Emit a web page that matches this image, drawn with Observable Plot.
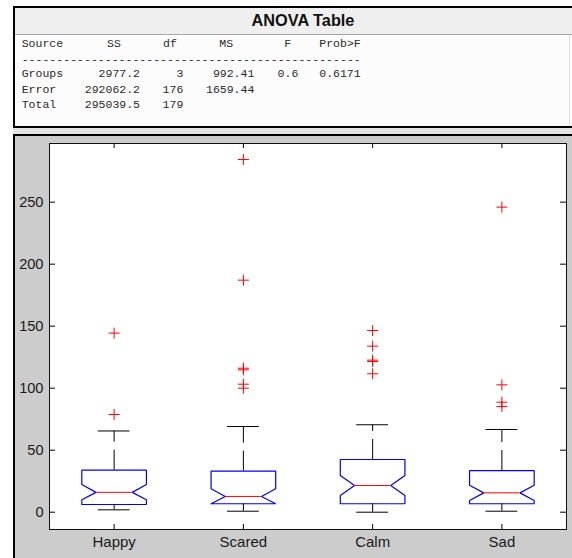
<!DOCTYPE html>
<html>
<head>
<meta charset="utf-8">
<script src="https://cdn.jsdelivr.net/npm/d3@7"></script>
<script src="https://cdn.jsdelivr.net/npm/@observablehq/plot@0.6"></script>
<style>
  html, body { margin: 0; padding: 0; background: #ffffff; }
  #page { position: relative; width: 572px; height: 558px; overflow: hidden; background: #ffffff; }
  #anova { position: absolute; left: 13px; top: 6px; width: 559px; height: 122px; box-sizing: border-box;
           border-left: 2px solid #000; border-top: 2px solid #000; border-bottom: 2px solid #000; background: #fcfcfc; }
  #titlebar { position: absolute; left: 0; top: 0; right: 0; height: 26px; background: #efefef; border-bottom: 1px solid #a9a9a9; }
  #rightedge { position: absolute; left: 554px; top: 27px; width: 1px; bottom: 0; background: #dddddd; }
  #gap { position: absolute; left: 13px; top: 128px; width: 559px; height: 6px; background: #e2e2e2; }
  #tableSvg { position: absolute; left: 0; top: 0; }
  #fig { position: absolute; left: 13px; top: 134px; width: 559px; height: 424px; box-sizing: border-box;
         border-left: 2px solid #000; border-top: 2px solid #000; background: #cccccc; }
  #fig svg { display: block; }
</style>
</head>
<body>
<div id="page">
  <div id="anova"><div id="titlebar"></div><div id="rightedge"></div></div>
  <div id="gap"></div>
  <svg id="tableSvg" width="572" height="130"></svg>
  <div id="fig"></div>
</div>
<script>
// ---------- ANOVA table text ----------
const tableTitle = "ANOVA Table";
const tableHeader = ["Source", "SS", "df", "MS", "F", "Prob>F"];
const tableRows = [
  ["Groups", "2977.2", "3", "992.41", "0.6", "0.6171"],
  ["Error", "292062.2", "176", "1659.44", "", ""],
  ["Total", "295039.5", "179", "", "", ""]
];

// ---------- Box plot data ----------
const categories   = ["Happy", "Scared", "Calm", "Sad"];
const lowerWhisker = [1.9, 0.8, 0.0, 0.8];
const q1           = [6.2, 6.8, 6.8, 6.8];
const notchLow     = [10.0, 6.8, 13.5, 9.4];
const median       = [16.0, 12.7, 21.5, 15.6];
const notchHigh    = [22.3, 18.9, 29.6, 21.8];
const q3           = [33.9, 33.1, 42.5, 33.6];
const upperWhisker = [65.5, 69.1, 70.5, 66.7];
const outliers = [
  [144.4, 78.8],
  [284.4, 187.1, 116.1, 114.8, 103.2, 100.0],
  [146.5, 133.9, 122.6, 121.5, 111.6],
  [246.0, 102.7, 88.7, 85.2]
];
const yTicks = [0, 50, 100, 150, 200, 250];

// ---------- table drawing ----------
const tsvg = d3.select("#tableSvg");
tsvg.append("text").text(tableTitle)
  .attr("x", 303).attr("y", 26).attr("text-anchor", "middle")
  .attr("font-family", "'Liberation Sans', Arial, sans-serif").attr("font-weight", "bold")
  .attr("font-size", 16.3).attr("fill", "#111");
const mono = "'Liberation Mono', 'Courier New', monospace";
const headerX = [21.7, 107, 163, 219.3, 284.3, 319.3];
const colRight = [null, 140, 183.3, 254.3, 298.3, 360.7];
const rowY = [77.3, 93, 108.3];
tableHeader.forEach((h, j) => {
  tsvg.append("text").text(h).attr("x", headerX[j]).attr("y", 47.3)
    .attr("font-family", mono).attr("font-size", 11.5).attr("fill", "#2a2a2a");
});
tsvg.append("text").text("-".repeat(49)).attr("x", 21.7).attr("y", 62.5)
  .attr("textLength", 339).attr("lengthAdjust", "spacing")
  .attr("font-family", mono).attr("font-size", 11.5).attr("fill", "#2a2a2a");
tableRows.forEach((row, r) => {
  row.forEach((cell, j) => {
    if (!cell) return;
    const t = tsvg.append("text").text(cell).attr("y", rowY[r])
      .attr("font-family", mono).attr("font-size", 11.5).attr("fill", "#2a2a2a");
    if (j === 0) t.attr("x", 21.7);
    else t.attr("x", colRight[j]).attr("text-anchor", "end");
  });
});

// ---------- chart ----------
const BOX_HALF = 0.25, NOTCH_HALF = 0.14, CAP_HALF = 0.123;
const stats = categories.map((c, i) => ({
  i, c, lw: lowerWhisker[i], q1: q1[i], nlo: notchLow[i], med: median[i],
  nhi: notchHigh[i], q3: q3[i], uw: upperWhisker[i]
}));
const boxPts = stats.flatMap(s => [
  [s.i - BOX_HALF, s.q1], [s.i + BOX_HALF, s.q1], [s.i + BOX_HALF, s.nlo],
  [s.i + NOTCH_HALF, s.med], [s.i + BOX_HALF, s.nhi], [s.i + BOX_HALF, s.q3],
  [s.i - BOX_HALF, s.q3], [s.i - BOX_HALF, s.nhi], [s.i - NOTCH_HALF, s.med],
  [s.i - BOX_HALF, s.nlo], [s.i - BOX_HALF, s.q1]
].map(([x, y]) => ({x, y, c: s.c})));
const outlierPts = outliers.flatMap((arr, i) => arr.map(v => ({i, v})));
const indices = categories.map((c, i) => i);
const plusSymbol = {
  draw(ctx, size) {
    const r = Math.sqrt(size / Math.PI);
    ctx.moveTo(-r, 0); ctx.lineTo(r, 0);
    ctx.moveTo(0, -r); ctx.lineTo(0, r);
  }
};

const W = 557, H = 422, ML = 34, MR = 6, MT = 7, MB = 29;
const innerW = W - ML - MR, innerH = H - MT - MB;

const chart = Plot.plot({
  width: W, height: H,
  marginLeft: ML, marginRight: MR, marginTop: MT, marginBottom: MB,
  style: {background: "#cccccc", fontFamily: "'Liberation Sans', Arial, sans-serif", fontSize: "15px", color: "#1a1a1a", overflow: "visible"},
  x: {type: "linear", domain: [-0.5, 3.5], axis: null},
  y: {type: "linear", domain: [-13.95, 297.3], axis: null},
  marks: [
    Plot.frame({fill: "white", stroke: null}),
    Plot.tickY(yTicks, {y: d => d, stroke: "#000", insetRight: innerW - 6}),
    Plot.tickY(yTicks, {y: d => d, stroke: "#000", insetLeft: innerW - 6}),
    Plot.tickX(indices, {x: d => d, stroke: "#000", insetTop: innerH - 5}),
    Plot.tickX(indices, {x: d => d, stroke: "#000", insetBottom: innerH - 5}),
    Plot.ruleX(stats, {x: "i", y1: "q3", y2: "uw", stroke: "#000", strokeDasharray: "20,8"}),
    Plot.ruleX(stats, {x: "i", y1: "q1", y2: "lw", stroke: "#000", strokeDasharray: "20,8"}),
    Plot.ruleY(stats, {y: "uw", x1: s => s.i - CAP_HALF, x2: s => s.i + CAP_HALF, stroke: "#000"}),
    Plot.ruleY(stats, {y: "lw", x1: s => s.i - CAP_HALF, x2: s => s.i + CAP_HALF, stroke: "#000"}),
    Plot.line(boxPts, {x: "x", y: "y", z: "c", stroke: "#0000ff", strokeWidth: 1.2, strokeLinejoin: "miter"}),
    Plot.ruleY(stats, {y: "med", x1: s => s.i - NOTCH_HALF, x2: s => s.i + NOTCH_HALF, stroke: "#ff0000"}),
    Plot.dot(outlierPts, {x: "i", y: "v", symbol: plusSymbol, r: 5.5, stroke: "#ff0000", fill: "none", strokeWidth: 1}),
    Plot.frame({stroke: "#111"}),
    Plot.axisY(yTicks, {anchor: "left", tickSize: 0, tickPadding: 6, label: null, fontSize: 14.6}),
    Plot.axisX(indices, {anchor: "bottom", tickSize: 0, tickPadding: 7, label: null, fontSize: 15, tickFormat: i => categories[i]})
  ]
});
document.getElementById("fig").appendChild(chart);
</script>
</body>
</html>
